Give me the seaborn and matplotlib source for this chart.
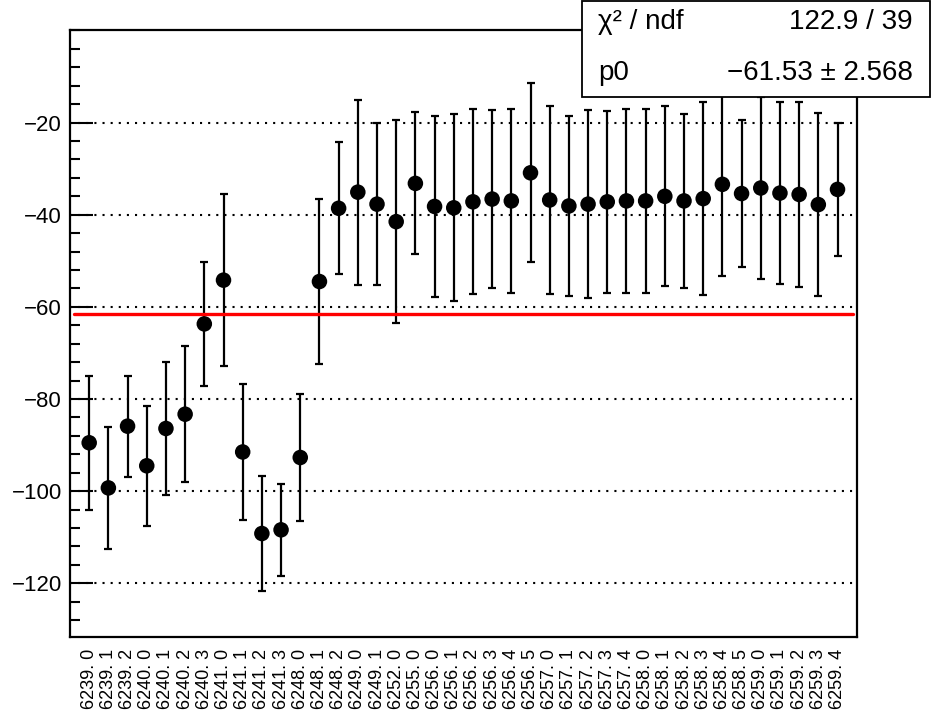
import seaborn as sns
import matplotlib.pyplot as plt
import matplotlib.patches as mpatches
from matplotlib.ticker import FixedLocator, MultipleLocator
import pandas as pd

runs = ['6239. 0', '6239. 1', '6239. 2', '6240. 0', '6240. 1', '6240. 2', '6240. 3',
        '6241. 0', '6241. 1', '6241. 2', '6241. 3', '6248. 0', '6248. 1', '6248. 2',
        '6249. 0', '6249. 1', '6252. 0', '6255. 0', '6256. 0', '6256. 1', '6256. 2',
        '6256. 3', '6256. 4', '6256. 5', '6257. 0', '6257. 1', '6257. 2', '6257. 3',
        '6257. 4', '6258. 0', '6258. 1', '6258. 2', '6258. 3', '6258. 4', '6258. 5',
        '6259. 0', '6259. 1', '6259. 2', '6259. 3', '6259. 4']
values = [-89.5, -99.3, -85.9, -94.5, -86.4, -83.3, -63.7, -54.2, -91.5, -109.2,
          -108.4, -92.7, -54.5, -38.6, -35.1, -37.7, -41.5, -33.2, -38.2, -38.5,
          -37.2, -36.6, -37.0, -30.9, -36.8, -38.1, -37.7, -37.2, -37.0, -37.0,
          -36.0, -37.0, -36.5, -33.4, -35.4, -34.2, -35.3, -35.6, -37.8, -34.5]
errors = [14.5, 13.3, 11.0, 13.0, 14.5, 14.7, 13.4, 18.6, 14.8, 12.4,
          10.0, 13.8, 18.0, 14.3, 20.1, 17.6, 22.0, 15.4, 19.7, 20.3,
          20.1, 19.3, 20.0, 19.4, 20.3, 19.5, 20.4, 19.8, 20.0, 20.0,
          19.5, 18.8, 21.0, 20.0, 16.0, 19.8, 19.8, 20.0, 19.8, 14.5]
y_major = [-120, -100, -80, -60, -40, -20]
fit_p0 = -61.53
fit_err = 2.568
chi2 = 122.9
ndf = 39

df = pd.DataFrame({'idx': range(1, len(runs) + 1), 'value': values, 'err': errors})

sns.set_theme(style='white')
plt.rcParams['font.family'] = ['Liberation Sans', 'DejaVu Sans']
plt.rcParams['text.color'] = 'black'
plt.rcParams['xtick.color'] = 'black'
plt.rcParams['ytick.color'] = 'black'
plt.rcParams['axes.labelcolor'] = 'black'

fig = plt.figure(figsize=(9.32, 7.18), dpi=100)
ax = fig.add_axes([70 / 932, 1 - 636.7 / 718, 786.7 / 932, 606.7 / 718])

# dotted grid at major y ticks
for yv in y_major:
    ax.axhline(yv, color='black', lw=1.5, ls=(0, (1, 2.9)), zorder=1)

ax.errorbar(df['idx'], df['value'], yerr=df['err'], fmt='none', ecolor='black',
            elinewidth=1.6, capsize=2.6, capthick=1.6, zorder=2)
sns.scatterplot(data=df, x='idx', y='value', ax=ax, color='black', s=125,
                edgecolor='none', zorder=3)

# constant fit
ax.axhline(fit_p0, xmin=0.2 / 41, xmax=40.8 / 41, color='#ff0000', lw=2.4, zorder=4)

ax.set_xlim(0, 41)
ax.set_ylim(-131.6, 0.1)
ax.set_xlabel('')
ax.set_ylabel('')

ax.set_xticks(df['idx'])
ax.set_xticklabels(runs, rotation=90, fontsize=13, va='top', ha='center', color='black')
ax.tick_params(axis='x', length=0, pad=9)

ax.yaxis.set_major_locator(FixedLocator(y_major))
ax.yaxis.set_minor_locator(MultipleLocator(4))
ax.tick_params(axis='y', which='major', direction='in', length=16.5, width=1.5,
               labelsize=16, pad=6, left=True, color='black', labelcolor='black')
ax.tick_params(axis='y', which='minor', direction='in', length=7.2, width=1.5,
               left=True, color='black')

for s in ax.spines.values():
    s.set_color('black')
    s.set_linewidth(1.6)

# stats box
box = mpatches.Rectangle((582 / 932, 1 - 97 / 718), 348 / 932, 96 / 718,
                         transform=fig.transFigure, facecolor='white',
                         edgecolor='black', lw=1.3, zorder=10)
fig.patches.append(box)
fig.text(598 / 932, 1 - 22 / 718, '\u03c7\u00b2 / ndf', fontsize=20, va='center',
         ha='left', zorder=11, color='black')
fig.text(913 / 932, 1 - 22 / 718, f'{chi2} / {ndf}', fontsize=20, va='center',
         ha='right', zorder=11, color='black')
fig.text(598 / 932, 1 - 73 / 718, 'p0', fontsize=20, va='center', ha='left',
         zorder=11, color='black')
fig.text(913 / 932, 1 - 73 / 718, f'\u2212{abs(fit_p0)} \u00b1 {fit_err}', fontsize=20,
         va='center', ha='right', zorder=11, color='black')

fig.savefig('out.png', dpi=100)
